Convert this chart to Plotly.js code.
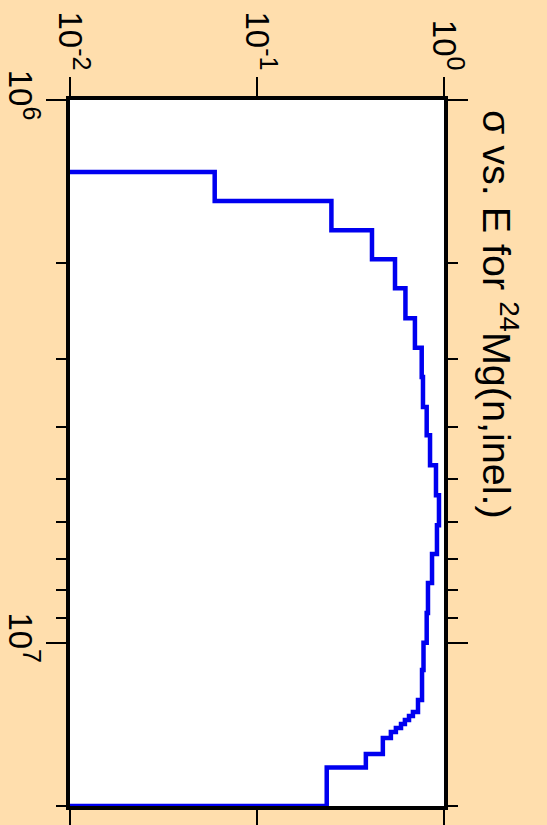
<!DOCTYPE html>
<html>
<head>
<meta charset="utf-8">
<script src="https://cdn.plot.ly/plotly-3.0.1.min.js"></script>
<style>
html, body { margin: 0; padding: 0; width: 547px; height: 825px; overflow: hidden; background: #FFDEAD; }
#chart { width: 547px; height: 825px; }
</style>
</head>
<body>
<div id="chart"></div>
<script>
// Bin edges of the energy histogram (eV)
const energyEdges = [1.358e6, 1.535e6, 1.738e6, 1.965e6, 2.223e6, 2.524e6, 2.861e6, 3.241e6,
  3.681e6, 4.146e6, 4.709e6, 5.348e6, 6.075e6, 6.868e6, 7.767e6, 8.822e6, 1.0e7,
  1.123e7, 1.276e7, 1.342e7, 1.365e7, 1.389e7, 1.412e7, 1.437e7, 1.461e7, 1.499e7,
  1.604e7, 1.699e7, 2.0e7];
// Cross section in each bin (b)
const sigmaValues = [0.0594, 0.250, 0.412, 0.547, 0.622, 0.699, 0.760, 0.772, 0.808, 0.842,
  0.906, 0.940, 0.917, 0.863, 0.821, 0.808, 0.777, 0.763, 0.726, 0.682, 0.650, 0.618,
  0.589, 0.553, 0.520, 0.471, 0.382, 0.236];
// Cross section shown outside the tabulated bins (bottom of the sigma axis)
const sigmaFloor = 0.01;

const energyMajorTicks = [1e6, 1e7];
const energyMajorLabels = ['10<sup><span style="font-size:25px">6</span></sup>',
                           '10<sup><span style="font-size:25px">7</span></sup>'];
const energyMinorTicks = [2e6, 3e6, 4e6, 5e6, 6e6, 7e6, 8e6, 9e6, 2e7];
const sigmaTicks = [0.01, 0.1, 1];
const sigmaLabels = ['10<sup><span style="font-size:25px">-2</span></sup>',
                     '10<sup><span style="font-size:25px">-1</span></sup>',
                     '10<sup><span style="font-size:25px">0</span></sup>'];
const titleText = 'σ vs. E for <sup>24</sup>Mg(n,inel.)';

// The chart is drawn turned a quarter turn: sigma runs across, energy runs down.
// Build the histogram outline as corner points of each bin.
const xs = [sigmaFloor];
const ys = [energyEdges[0]];
for (let i = 0; i < sigmaValues.length; i++) {
  xs.push(sigmaValues[i], sigmaValues[i]);
  ys.push(energyEdges[i], energyEdges[i + 1]);
}
xs.push(sigmaFloor);
ys.push(energyEdges[energyEdges.length - 1]);

const FONT = 'Liberation Sans, Arial, Helvetica, sans-serif';

const trace = {
  x: xs, y: ys, type: 'scatter', mode: 'lines',
  line: { shape: 'linear', color: '#0000f0', width: 4.5, simplify: false },
  hoverinfo: 'skip'
};

const layout = {
  width: 547, height: 825,
  margin: { l: 70, r: 103, t: 100, b: 19, pad: 0 },
  paper_bgcolor: '#FFDEAD',
  plot_bgcolor: '#ffffff',
  showlegend: false,
  font: { family: FONT, color: '#000' },
  xaxis: {
    type: 'log', range: [-2, 0], side: 'top',
    tickmode: 'array', tickvals: sigmaTicks, ticktext: sigmaLabels, tickangle: 90,
    ticklabelstandoff: -5,
    ticks: 'outside', ticklen: 19, tickwidth: 2, tickcolor: '#000',
    showline: true, linewidth: 4, linecolor: '#000', mirror: 'allticks',
    showgrid: false, zeroline: false,
    tickfont: { family: FONT, size: 33, color: '#000' }
  },
  yaxis: {
    type: 'log', range: [Math.log10(2e7), 6],
    tickmode: 'array', tickvals: energyMajorTicks, ticktext: energyMajorLabels, tickangle: 90,
    ticklabelstandoff: -3,
    ticks: 'outside', ticklen: 20, tickwidth: 2, tickcolor: '#000',
    showline: true, linewidth: 4, linecolor: '#000', mirror: 'allticks',
    showgrid: false, zeroline: false,
    tickfont: { family: FONT, size: 33, color: '#000' },
    minor: { tickmode: 'array', tickvals: energyMinorTicks, ticks: 'outside',
             ticklen: 10, tickwidth: 2, tickcolor: '#000', showgrid: false }
  },
  annotations: [{
    text: titleText, textangle: 90, showarrow: false,
    font: { family: FONT, size: 39.5, color: '#000' },
    xref: 'paper', x: (500 - 70) / 374, xanchor: 'center',
    yref: 'paper', y: 1 - (314 - 100) / 706, yanchor: 'middle'
  }]
};

Plotly.newPlot('chart', [trace], layout, { displayModeBar: false, staticPlot: true });
</script>
</body>
</html>
